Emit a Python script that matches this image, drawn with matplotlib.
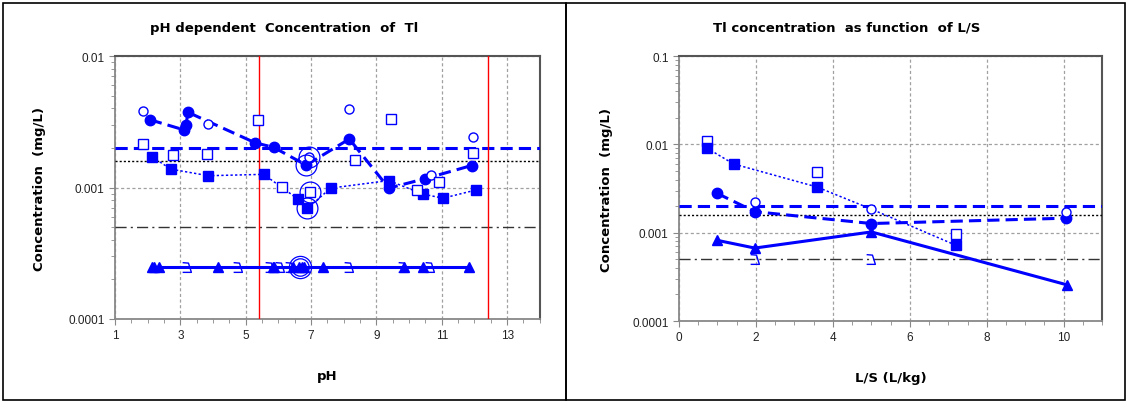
import numpy as np
import matplotlib
matplotlib.use('Agg')
import matplotlib.pyplot as plt
from matplotlib.path import Path
from matplotlib.patches import Rectangle
from matplotlib.ticker import FixedLocator, FuncFormatter, MultipleLocator, LogLocator, NullFormatter

# ---- pH dependent data (left panel)
ph_oc = [1.85, 3.86, 6.95, 8.16, 10.66, 11.97]
c_oc = [0.00384, 0.00304, 0.0017, 0.00395, 0.00124, 0.00242]
ph_fc = [2.07, 3.10, 3.17, 3.24, 5.29, 5.86, 6.85, 8.17, 9.38, 10.50, 11.91]
c_fc = [0.00328, 0.00275, 0.0030, 0.00373, 0.00219, 0.00202, 0.00148, 0.00234, 0.00099, 0.00117, 0.00147]
ph_os = [1.85, 2.79, 3.81, 5.39, 6.11, 6.98, 8.33, 9.46, 10.25, 10.90, 11.96]
c_os = [0.00214, 0.00178, 0.0018, 0.00325, 0.00101, 0.00093, 0.00163, 0.00332, 0.00095, 0.00111, 0.00182]
ph_fs = [2.14, 2.71, 3.86, 5.55, 6.59, 6.89, 7.60, 9.38, 10.43, 11.04, 12.06]
c_fs = [0.00171, 0.00138, 0.00123, 0.00126, 0.00082, 0.000695, 0.00099, 0.00113, 0.00089, 0.00083, 0.00096]
ph_ft = [2.13, 2.20, 2.36, 4.14, 5.84, 5.88, 6.45, 6.62, 6.71, 6.79, 7.37, 9.84, 10.42, 11.82]
c_ft = [0.00025] * len(ph_ft)
ph_ot = [3.21, 4.78, 5.73, 6.06, 6.37, 8.16, 9.80, 10.64]
c_ot = [0.00025] * len(ph_ot)
ph_hl = [6.85, 6.98, 6.89, 6.95]
c_hl = [0.00148, 0.00093, 0.000695, 0.0017]
ph_hl_t = [6.67]
c_hl_t = [0.00025]
ph_red = [5.4, 12.4]

# ---- L/S data (right panel)
ls_os = [0.72, 3.58, 7.2]
c_ls_os = [0.011, 0.00482, 0.00096]
ls_fs = [0.72, 1.42, 3.58, 7.2]
c_ls_fs = [0.0091, 0.006, 0.0033, 0.00072]
ls_line = [0.72, 1.42, 3.58, 5.0, 7.2]
c_ls_line = [0.0091, 0.006, 0.0033, 0.00185, 0.00072]
ls_oc = [1.97, 5.0, 10.06]
c_ls_oc = [0.0022, 0.00185, 0.0017]
ls_fc = [0.99, 1.97, 5.0, 10.06]
c_ls_fc = [0.00279, 0.00173, 0.00127, 0.00146]
ls_ft = [0.99, 1.97, 5.0, 10.08]
c_ls_ft = [0.00082, 0.00067, 0.00102, 0.000257]
ls_ot = [1.97, 5.0]
c_ls_ot = [0.0005, 0.0005]

# limit values
lim_blue = 0.002
lim_dot = 0.0016
lim_dd = 0.0005

blue = '#0000FF'
# half-drawn open triangle glyph as seen in the original
half_tri = Path([(-0.5, 0.5), (0.1, 0.45), (0.4, -0.5), (-0.5, -0.5)],
                [Path.MOVETO, Path.LINETO, Path.LINETO, Path.LINETO])

plt.rcParams['font.family'] = 'DejaVu Sans'

fig = plt.figure(figsize=(11.27, 4.02), dpi=100)

# panel frames
fig.add_artist(Rectangle((0.003, 0.002), 0.4995, 0.988, transform=fig.transFigure,
                         fill=False, ec='black', lw=1.2))
fig.add_artist(Rectangle((0.5025, 0.002), 0.4955, 0.988, transform=fig.transFigure,
                         fill=False, ec='black', lw=1.2))

ax1 = fig.add_axes([0.102, 0.204, 0.377, 0.654])
ax2 = fig.add_axes([0.6025, 0.199, 0.3755, 0.659])


def dec_fmt(v, pos):
    return ('%.4f' % v).rstrip('0')


def style_axis(ax):
    ax.set_yscale('log')
    ax.yaxis.set_major_formatter(FuncFormatter(dec_fmt))
    ax.yaxis.set_minor_locator(LogLocator(base=10, subs=np.arange(2, 10)))
    ax.yaxis.set_minor_formatter(NullFormatter())
    ax.grid(True, which='major', color='#a0a0a0', ls=(0, (2.5, 2)), lw=0.9)
    for s in ['left', 'bottom']:
        ax.spines[s].set_color('#888888')
        ax.spines[s].set_linewidth(1.3)
    for s in ['top', 'right']:
        ax.spines[s].set_color('#555555')
        ax.spines[s].set_linewidth(1.5)
    ax.tick_params(which='both', color='#888888', labelsize=8.5, labelcolor='#222222')
    ax.tick_params(which='major', length=4)
    ax.tick_params(which='minor', length=3)
    for lab in ax.get_xticklabels() + ax.get_yticklabels():
        lab.set_family('Liberation Sans')


# ---------- left panel
ax1.axhline(lim_blue, color=blue, ls=(0, (4, 2)), lw=2.2, zorder=3)
ax1.axhline(lim_dot, color='black', ls=(0, (1.5, 1.5)), lw=1.0, zorder=3)
ax1.axhline(lim_dd, color='#333333', ls=(0, (8, 3, 1.5, 3)), lw=1.0, zorder=3)
for p in ph_red:
    ax1.axvline(p, color='red', lw=1.0, zorder=3)

ax1.plot(ph_fc, c_fc, color=blue, ls=(0, (4, 2)), lw=2.2, marker='o', ms=7.5, zorder=5)
ax1.plot(ph_fs, c_fs, color=blue, ls=(0, (1.5, 1.5)), lw=1.1, marker='s', ms=6.5, zorder=5)
ax1.plot(ph_ft, c_ft, color=blue, ls='-', lw=2.2, marker='^', ms=6.5, zorder=5)
ax1.plot(ph_oc, c_oc, ls='none', marker='o', ms=6.5, mfc='white', mec=blue, mew=1.0, zorder=6)
ax1.plot(ph_os, c_os, ls='none', marker='s', ms=7, mfc='white', mec=blue, mew=1.0, zorder=6)
ax1.plot(ph_ot, c_ot, ls='none', marker=half_tri, ms=7, mfc='none', mec=blue, mew=1.0, zorder=6)
ax1.plot(ph_hl, c_hl, ls='none', marker='o', ms=15, mfc='none', mec=blue, mew=0.9, zorder=7)
ax1.plot(ph_hl_t, c_hl_t, ls='none', marker='o', ms=16, mfc='none', mec=blue, mew=0.9, zorder=7)
ax1.plot(ph_hl_t, c_hl_t, ls='none', marker='o', ms=12.5, mfc='none', mec=blue, mew=0.9, zorder=7)

ax1.set_xlim(1, 14)
ax1.set_ylim(0.0001, 0.01)
ax1.xaxis.set_major_locator(FixedLocator([1, 3, 5, 7, 9, 11, 13]))
ax1.xaxis.set_minor_locator(MultipleLocator(0.5))
ax1.yaxis.set_major_locator(FixedLocator([0.0001, 0.001, 0.01]))
style_axis(ax1)
ax1.set_xlabel('pH', fontsize=9.5, fontweight='bold', labelpad=20)
ax1.set_ylabel('Concentration  (mg/L)', fontsize=9.5, fontweight='bold', labelpad=16)

# ---------- right panel
ax2.axhline(lim_blue, color=blue, ls=(0, (4, 2)), lw=2.2, zorder=3)
ax2.axhline(lim_dot, color='black', ls=(0, (1.5, 1.5)), lw=1.0, zorder=3)
ax2.axhline(lim_dd, color='#333333', ls=(0, (8, 3, 1.5, 3)), lw=1.0, zorder=3)

ax2.plot(ls_line, c_ls_line, color=blue, ls=(0, (1.5, 1.5)), lw=1.1, zorder=4)
ax2.plot(ls_fs, c_ls_fs, ls='none', color=blue, marker='s', ms=6.5, zorder=5)
ax2.plot(ls_fc, c_ls_fc, color=blue, ls=(0, (4, 2)), lw=2.2, marker='o', ms=7.5, zorder=5)
ax2.plot(ls_ft, c_ls_ft, color=blue, ls='-', lw=2.2, marker='^', ms=6.5, zorder=5)
ax2.plot(ls_oc, c_ls_oc, ls='none', marker='o', ms=6.5, mfc='white', mec=blue, mew=1.0, zorder=6)
ax2.plot(ls_os, c_ls_os, ls='none', marker='s', ms=7, mfc='white', mec=blue, mew=1.0, zorder=4.5)
ax2.plot(ls_ot, c_ls_ot, ls='none', marker=half_tri, ms=7, mfc='none', mec=blue, mew=1.0, zorder=6)

ax2.set_xlim(0, 11)
ax2.set_ylim(0.0001, 0.1)
ax2.xaxis.set_major_locator(FixedLocator([0, 2, 4, 6, 8, 10]))
ax2.xaxis.set_minor_locator(MultipleLocator(0.5))
ax2.yaxis.set_major_locator(FixedLocator([0.0001, 0.001, 0.01, 0.1]))
style_axis(ax2)
ax2.set_xlabel('L/S (L/kg)', fontsize=9.5, fontweight='bold', labelpad=20)
ax2.set_ylabel('Concentration  (mg/L)', fontsize=9.5, fontweight='bold', labelpad=14)

fig.text(0.252, 0.93, 'pH dependent  Concentration  of  Tl', ha='center', va='center',
         fontsize=9.5, fontweight='bold')
fig.text(0.751, 0.93, 'Tl concentration  as function  of L/S', ha='center', va='center',
         fontsize=9.5, fontweight='bold')

fig.savefig('out.png', dpi=100)
